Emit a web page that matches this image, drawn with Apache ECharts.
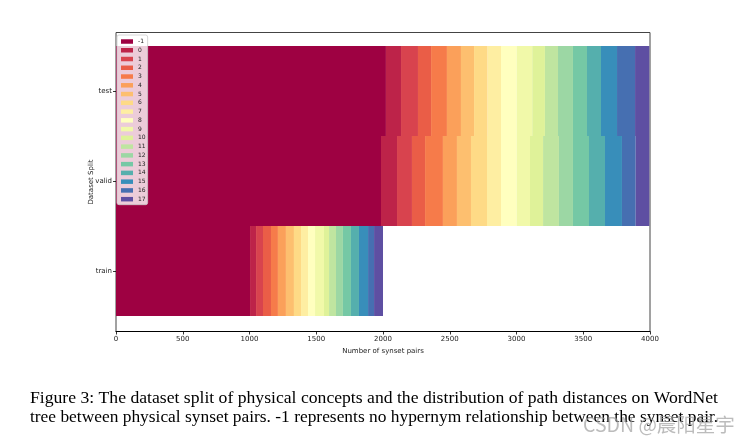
<!DOCTYPE html>
<html>
<head>
<meta charset="utf-8">
<script src="https://cdn.jsdelivr.net/npm/echarts@6/dist/echarts.min.js"></script>
<style>html,body{margin:0;padding:0;background:#fff;}#c{width:748px;height:445px;}</style>
</head>
<body>
<div id="c"></div>
<script>
const categories = ['train', 'valid', 'test'];
const distances = ['-1','0','1','2','3','4','5','6','7','8','9','10','11','12','13','14','15','16','17'];
// values per distance: [train, valid, test]
const trainVals = [1004, 45, 52, 60, 52, 60, 60, 53, 52, 53, 67, 38, 52, 52, 60, 60, 68, 45, 67];
const validVals = [1985, 120, 112, 98, 134, 105, 105, 120, 105, 117, 100, 98, 119, 105, 120, 120, 127, 103, 102];
const testVals  = [2022, 113, 127, 98, 119, 105, 98, 102, 100, 117, 117, 95, 98, 112, 105, 105, 120, 135, 107];
const xTicks = [0, 500, 1000, 1500, 2000, 2500, 3000, 3500, 4000];
const colors = ['#9e0142','#bd2349','#d8434e','#ea5d47','#f67b4a','#fba05a','#fdbf6f','#feda86','#feeea2','#ffffbf',
                '#f1f9a9','#dff299','#bfe5a0','#9cd7a4','#75c8a5','#55afad','#388eba','#466fb1','#5e4fa2'];

const chart = echarts.init(document.getElementById('c'), null, {renderer: 'canvas'});
const font = 'DejaVu Sans';
const series = distances.map((d, i) => ({
  name: d,
  type: 'bar',
  stack: 'all',
  xAxisIndex: 0,
  yAxisIndex: 0,
  barWidth: '100%',
  barCategoryGap: 0,
  itemStyle: {color: colors[i]},
  emphasis: {disabled: true},
  data: [trainVals[i], validVals[i], testVals[i]]
}));

chart.setOption({
  animation: false,
  color: colors,
  textStyle: {fontFamily: font},
  grid: [
    {left: 116, right: 98, top: 46, height: 270},
    {left: 116, right: 98, top: 32.5, bottom: 113.5, show: true, borderColor: '#444', borderWidth: 1, backgroundColor: 'transparent'}
  ],
  xAxis: [
    {type: 'value', gridIndex: 0, min: 0, max: 4000, show: false},
    {type: 'value', gridIndex: 1, min: 0, max: 4000, interval: 500,
     axisLine: {show: true, lineStyle: {color: '#000', width: 1.2}},
     axisTick: {show: true, length: 3, lineStyle: {color: '#000', width: 0.8}},
     axisLabel: {fontSize: 7, color: '#222', margin: 4, fontFamily: font,
                 formatter: v => xTicks.includes(v) ? String(v) : ''},
     splitLine: {show: false},
     name: 'Number of synset pairs', nameLocation: 'middle', nameGap: 15,
     nameTextStyle: {fontSize: 7, color: '#222', fontFamily: font}}
  ],
  yAxis: [
    {type: 'category', gridIndex: 0, data: categories,
     axisLine: {show: false}, splitLine: {show: false}, splitArea: {show: false},
     axisTick: {show: true, alignWithLabel: true, length: 3, lineStyle: {color: '#000', width: 0.8}},
     axisLabel: {fontSize: 7, color: '#222', margin: 4, fontFamily: font}},
    {type: 'value', gridIndex: 1, min: 0, max: 1,
     axisLine: {show: false}, axisTick: {show: false}, axisLabel: {show: false}, splitLine: {show: false},
     name: 'Dataset Split', nameLocation: 'middle', nameGap: 21, nameRotate: 90,
     nameTextStyle: {fontSize: 7, color: '#222', fontFamily: font}}
  ],
  legend: {
    data: distances,
    orient: 'vertical',
    left: 117, top: 35,
    icon: 'rect',
    itemWidth: 12, itemHeight: 4.5,
    itemGap: 1.76,
    padding: [3, 2, 2, 4],
    backgroundColor: 'rgba(255,255,255,0.8)',
    borderColor: '#ccc', borderWidth: 0.8, borderRadius: 2,
    selectedMode: false,
    textStyle: {fontSize: 6, lineHeight: 7, color: '#222', fontFamily: font}
  },
  graphic: [
    {type: 'text', left: 30, top: 389, silent: true,
     style: {text: 'Figure 3: The dataset split of physical concepts and the distribution of path distances on WordNet',
             font: '17.65px "Liberation Serif"', fill: '#000'}},
    {type: 'text', left: 30, top: 409, silent: true,
     style: {text: 'tree between physical synset pairs. -1 represents no hypernym relationship between the synset pair.',
             font: '17.4px "Liberation Serif"', fill: '#000'}},
    {type: 'text', left: 583, top: 415, silent: true, z: 100,
     style: {text: 'CSDN @晨阳星宇', font: '19.5px "Noto Sans CJK SC"', fill: 'rgba(160,160,160,0.7)'}}
  ],
  series: series
});
</script>
</body>
</html>
